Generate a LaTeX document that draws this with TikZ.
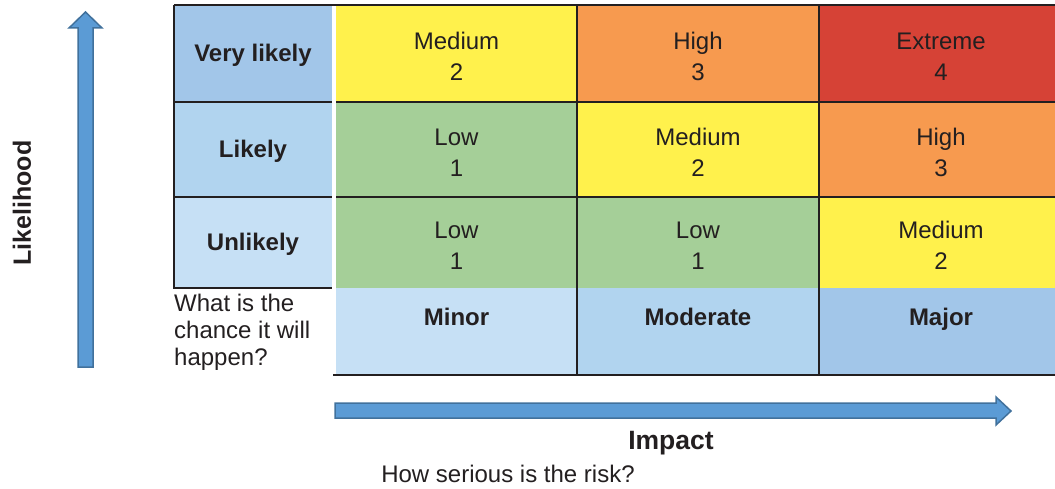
\documentclass[tikz,border=0pt]{standalone}
\usepackage{fontspec}
\setmainfont{Liberation Sans}
\usepackage{tikz}

\definecolor{bluedark}{HTML}{A2C6E9}
\definecolor{bluemid}{HTML}{B1D4EF}
\definecolor{bluelight}{HTML}{C6E0F5}
\definecolor{riskyellow}{HTML}{FFF14C}
\definecolor{riskorange}{HTML}{F79A4F}
\definecolor{riskred}{HTML}{D64236}
\definecolor{riskgreen}{HTML}{A5CF98}
\definecolor{arrowfill}{HTML}{5B9BD5}
\definecolor{arrowline}{HTML}{41719C}
\definecolor{inkc}{HTML}{231F20}

\begin{document}
\begin{tikzpicture}[x=1pt,y=-1pt,
  every node/.style={text=inkc},
  rowlab/.style={anchor=north west,minimum width=158pt,inner sep=0pt,outer sep=0pt,text height=21.5pt,font=\fontsize{24}{29}\selectfont\bfseries},
  risk/.style={anchor=north west,inner sep=0pt,outer sep=0pt,align=center,font=\fontsize{24}{31}\selectfont},
  sev/.style={anchor=north west,minimum height=87pt,inner sep=0pt,outer sep=0pt,text depth=29pt,font=\fontsize{24}{29}\selectfont\bfseries},
  grid/.style={draw=inkc,line width=2.5pt},
  bigarrow/.style={fill=arrowfill,draw=arrowline,line width=1.5pt,line join=miter}]
  \useasboundingbox (0,0) rectangle (1055,489);
  \newcommand{\cellstrut}{\rule{0pt}{23.5pt}}

  % likelihood labels
  \node[rowlab,fill=bluedark,minimum height=97pt] (vl) at (174,5) {Very likely};
  \node[rowlab,fill=bluemid,minimum height=95pt] (lk) at (174,102) {Likely};
  \node[rowlab,fill=bluelight,minimum height=91pt] (ul) at (174,197) {Unlikely};

  % risk cells (last column runs past the page edge)
  \node[risk,fill=riskyellow,minimum width=241pt,minimum height=97pt] (c11) at (336,5) {\cellstrut Medium\\2};
  \node[risk,fill=riskorange,minimum width=242pt,minimum height=97pt] (c12) at (577,5) {\cellstrut High\\3};
  \node[risk,fill=riskred,minimum width=244pt,minimum height=97pt] (c13) at (819,5) {\cellstrut Extreme\\4};
  \node[risk,fill=riskgreen,minimum width=241pt,minimum height=95pt] (c21) at (336,102) {\cellstrut Low\\1};
  \node[risk,fill=riskyellow,minimum width=242pt,minimum height=95pt] (c22) at (577,102) {\cellstrut Medium\\2};
  \node[risk,fill=riskorange,minimum width=244pt,minimum height=95pt] (c23) at (819,102) {\cellstrut High\\3};
  \node[risk,fill=riskgreen,minimum width=241pt,minimum height=91pt] (c31) at (336,197) {\cellstrut Low\\1};
  \node[risk,fill=riskgreen,minimum width=242pt,minimum height=91pt] (c32) at (577,197) {\cellstrut Low\\1};
  \node[risk,fill=riskyellow,minimum width=244pt,minimum height=91pt] (c33) at (819,197) {\cellstrut Medium\\2};

  % impact labels
  \node[sev,fill=bluelight,minimum width=241pt] (mi) at (336,288) {Minor};
  \node[sev,fill=bluemid,minimum width=242pt] (mo) at (577,288) {Moderate};
  \node[sev,fill=bluedark,minimum width=244pt] (mj) at (819,288) {Major};

  % grid lines
  \draw[grid] (vl.north west) -- (c13.north east);
  \draw[grid] (vl.north west) -- (ul.south west) -- (ul.south east);
  \draw[grid] (vl.south west) -- (vl.south east);
  \draw[grid] (lk.south west) -- (lk.south east);
  \draw[grid] (c11.south west) -- (c13.south east);
  \draw[grid] (c21.south west) -- (c23.south east);
  \draw[grid] (c11.north east) -- (mo.south west);
  \draw[grid] (c12.north east) -- (mj.south west);
  \draw[grid] ([xshift=-3pt]mi.south west) -- (mj.south east);

  % arrows
  \draw[bigarrow] (78,367) -- (78,28) -- (69,28) -- (85.5,12) -- (102,28) -- (93,28) -- (93,367) -- cycle;
  \draw[bigarrow] (335,403) -- (996,403) -- (996,397) -- (1011,411) -- (996,425) -- (996,418) -- (335,418) -- cycle;

  % axis texts
  \node[rotate=90,font=\fontsize{25}{30}\selectfont\bfseries] (lh) at (22,203) {Likelihood};
  \node[font=\fontsize{26.5}{31}\selectfont\bfseries] (im) at (671,443) {Impact};
  \node[font=\fontsize{24}{29}\selectfont] (hs) at (508,474) {How serious is the risk?};
  \node[anchor=north west,inner sep=0pt,align=left,font=\fontsize{24}{27}\selectfont] (wc) at (174,294) {What is the\\chance it will\\happen?};
\end{tikzpicture}
\end{document}
